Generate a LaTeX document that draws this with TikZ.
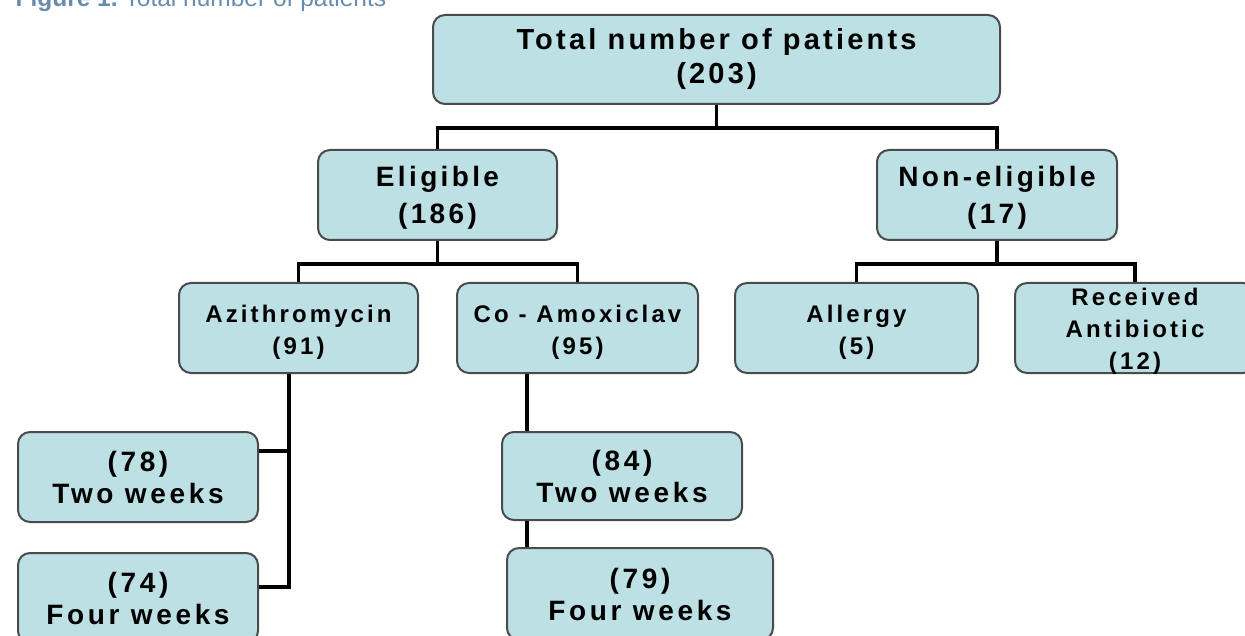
\documentclass[tikz,border=0pt]{standalone}
\usepackage{fontspec}
\setmainfont{Liberation Sans}
\newfontfamily\topfont[LetterSpace = 11]{Liberation Sans}
\newfontfamily\midfont[LetterSpace = 12]{Liberation Sans}
\newfontfamily\smallfont[LetterSpace = 13]{Liberation Sans}
\definecolor{boxfill}{RGB}{188,224,228}
\definecolor{boxline}{RGB}{72,76,78}
\definecolor{captionblue}{RGB}{104,140,175}

\begin{document}
\begin{tikzpicture}[x = 1pt, y = -1pt,
        box/.style = {draw = boxline, line width = 2pt, fill = boxfill, rounded corners = 12pt, inner sep = 0pt, align = center, minimum width = #1, minimum height = 90pt},
        big/.style = {font = \topfont\bfseries\fontsize{29}{34}\selectfont},
        mid/.style = {font = \midfont\bfseries\fontsize{28}{37}\selectfont, text depth = 0pt},
        small/.style = {font = \smallfont\bfseries\fontsize{24}{32}\selectfont, text height = 53.5pt, text depth = 0pt},
        low/.style = {font = \smallfont\bfseries\fontsize{28}{32}\selectfont},
        link/.style = {line width = 3.5pt, black}]
    \useasboundingbox (0, 0) rectangle (1245, 636);
    \clip (0, 0) rectangle (1245, 636);
    \fill[white] (0, 0) rectangle (1245, 636);

    \node[anchor = base west, text = captionblue, font = \fontsize{24.5}{28}\selectfont] (caption) at (12, 7) {\textbf{Figure 1.}\hspace{7pt}Total number of patients};

    % boxes
    \node[box = 567pt, big, minimum height = 89pt] (total) at (716.5, 59.5) {Total number of patients\\(203)};
    \node[box = 239pt, mid] (elig) at (437.5, 195) {Eligible\\(186)};
    \node[box = 240pt, mid] (nonelig) at (997, 195) {Non-eligible\\(17)};
    \node[box = 239pt, small] (azith) at (298.5, 328) {Azithromycin\\(91)};
    \node[box = 241pt, small] (coamox) at (577.5, 328) {Co - Amoxiclav\\(95)};
    \node[box = 243pt, small] (allergy) at (856.5, 328) {Allergy\\(5)};
    \node[box = 240pt, small, text height = 83.5pt] (received) at (1135, 328) {Received\\Antibiotic\\(12)};
    \node[box = 240pt, low] (twoazi) at (138, 477) {(78)\\Two weeks};
    \node[box = 240pt, low] (fourazi) at (138, 598) {(74)\\Four weeks};
    \node[box = 240pt, low, minimum height = 88pt] (twoamox) at (622, 476) {(84)\\Two weeks};
    \node[box = 266pt, low, minimum height = 92pt] (fouramox) at (640, 594) {(79)\\Four weeks};

    % connectors
    \draw[link] (total.south) -- ++(0, 23) coordinate (split1);
    \draw[link] (elig.north) |- (split1) -| (nonelig.north);
    \draw[link] (elig.south) -- ++(0, 23) coordinate (split2);
    \draw[link] (azith.north) |- (split2) -| (coamox.north);
    \draw[link] (nonelig.south) -- ++(0, 23) coordinate (split3);
    \draw[link] (allergy.north) |- (split3) -| (received.north);
    \draw[link] ([xshift = -9.5pt]azith.south) |- ([yshift = 11pt]fourazi.east);
    \draw[link] ([yshift = 26pt]twoazi.east) -- ([xshift = -9.5pt, yshift = 26pt]azith.south |- twoazi.east);
    \draw[link] ([xshift = -50.5pt]coamox.south) -- ([xshift = -50.5pt]coamox.south |- twoamox.north);
    \draw[link] ([xshift = -95pt]twoamox.south) -- ([xshift = -95pt]twoamox.south |- fouramox.north);
\end{tikzpicture}
\end{document}
